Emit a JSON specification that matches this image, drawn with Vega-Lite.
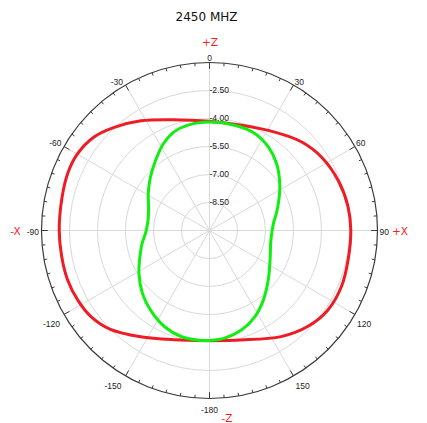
{
  "$schema": "https://vega.github.io/schema/vega-lite/v6.json",
  "width": 427,
  "height": 423,
  "autosize": {"type": "none"},
  "padding": 0,
  "background": "white",
  "config": {"view": {"stroke": null}, "font": "Liberation Sans"},
  "title": {"text": "2450 MHZ", "font": "DejaVu Sans", "fontSize": 12, "fontWeight": "normal", "color": "#111111", "anchor": "middle", "frame": "group", "offset": -24, "dx": -7},
  "datasets": {
    "rings": [{"db": -8.5, "kind": "grid"}, {"db": -7, "kind": "grid"}, {"db": -5.5, "kind": "grid"}, {"db": -4, "kind": "grid"}, {"db": -2.5, "kind": "grid"}, {"db": -1, "kind": "outer"}],
    "ticks": [
      {"angle": -175}, {"angle": -170}, {"angle": -165}, {"angle": -160}, {"angle": -155}, {"angle": -150},
      {"angle": -145}, {"angle": -140}, {"angle": -135}, {"angle": -130}, {"angle": -125}, {"angle": -120},
      {"angle": -115}, {"angle": -110}, {"angle": -105}, {"angle": -100}, {"angle": -95}, {"angle": -90},
      {"angle": -85}, {"angle": -80}, {"angle": -75}, {"angle": -70}, {"angle": -65}, {"angle": -60},
      {"angle": -55}, {"angle": -50}, {"angle": -45}, {"angle": -40}, {"angle": -35}, {"angle": -30},
      {"angle": -25}, {"angle": -20}, {"angle": -15}, {"angle": -10}, {"angle": -5}, {"angle": 0},
      {"angle": 5}, {"angle": 10}, {"angle": 15}, {"angle": 20}, {"angle": 25}, {"angle": 30},
      {"angle": 35}, {"angle": 40}, {"angle": 45}, {"angle": 50}, {"angle": 55}, {"angle": 60},
      {"angle": 65}, {"angle": 70}, {"angle": 75}, {"angle": 80}, {"angle": 85}, {"angle": 90},
      {"angle": 95}, {"angle": 100}, {"angle": 105}, {"angle": 110}, {"angle": 115}, {"angle": 120},
      {"angle": 125}, {"angle": 130}, {"angle": 135}, {"angle": 140}, {"angle": 145}, {"angle": 150},
      {"angle": 155}, {"angle": 160}, {"angle": 165}, {"angle": 170}, {"angle": 175}, {"angle": 180}
    ],
    "rlabels": [
      {"db": -2.5, "label": "-2.50"}, {"db": -4, "label": "-4.00"}, {"db": -5.5, "label": "-5.50"},
      {"db": -7, "label": "-7.00"}, {"db": -8.5, "label": "-8.50"}
    ],
    "alabels": [
      {"angle": 0, "label": "0"}, {"angle": 30, "label": "30"}, {"angle": 60, "label": "60"},
      {"angle": 90, "label": "90"}, {"angle": 120, "label": "120"}, {"angle": 150, "label": "150"},
      {"angle": 180, "label": "-180"}, {"angle": -150, "label": "-150"}, {"angle": -120, "label": "-120"},
      {"angle": -90, "label": "-90"}, {"angle": -60, "label": "-60"}, {"angle": -30, "label": "-30"}
    ],
    "dirs": [
      {"label": "+Z", "angle": 0}, {"label": "+X", "angle": 90}, {"label": "-X", "angle": -90}, {"label": "-Z", "angle": 180}
    ],
    "pattern": [
      {"series": "s1", "angle": -180, "db": -4.11}, {"series": "s1", "angle": -162, "db": -3.85},
      {"series": "s1", "angle": -147, "db": -3.21}, {"series": "s1", "angle": -135, "db": -2.5},
      {"series": "s1", "angle": -126, "db": -2.15}, {"series": "s1", "angle": -118, "db": -2.02},
      {"series": "s1", "angle": -109, "db": -1.95}, {"series": "s1", "angle": -100, "db": -1.96},
      {"series": "s1", "angle": -90, "db": -1.95}, {"series": "s1", "angle": -78, "db": -1.91},
      {"series": "s1", "angle": -68, "db": -1.81}, {"series": "s1", "angle": -60, "db": -1.82},
      {"series": "s1", "angle": -51, "db": -2.04}, {"series": "s1", "angle": -43, "db": -2.46},
      {"series": "s1", "angle": -32, "db": -3.07}, {"series": "s1", "angle": -18, "db": -3.76},
      {"series": "s1", "angle": 0, "db": -4.15}, {"series": "s1", "angle": 17, "db": -4.11},
      {"series": "s1", "angle": 34, "db": -3.66}, {"series": "s1", "angle": 46, "db": -3.16},
      {"series": "s1", "angle": 57, "db": -2.82}, {"series": "s1", "angle": 69, "db": -2.6},
      {"series": "s1", "angle": 80, "db": -2.47}, {"series": "s1", "angle": 90, "db": -2.43},
      {"series": "s1", "angle": 102, "db": -2.41}, {"series": "s1", "angle": 113, "db": -2.32},
      {"series": "s1", "angle": 124, "db": -2.36}, {"series": "s1", "angle": 134, "db": -2.63},
      {"series": "s1", "angle": 146, "db": -3.14}, {"series": "s1", "angle": 164, "db": -3.9},
      {"series": "s1", "angle": 180, "db": -4.11},
      {"series": "s2", "angle": -180, "db": -4.11}, {"series": "s2", "angle": -175, "db": -4.09},
      {"series": "s2", "angle": -165, "db": -4.12}, {"series": "s2", "angle": -155, "db": -4.31},
      {"series": "s2", "angle": -143, "db": -4.71}, {"series": "s2", "angle": -133, "db": -5.08},
      {"series": "s2", "angle": -121, "db": -5.59}, {"series": "s2", "angle": -106, "db": -6.17},
      {"series": "s2", "angle": -100, "db": -6.35}, {"series": "s2", "angle": -92, "db": -6.58},
      {"series": "s2", "angle": -80, "db": -6.66}, {"series": "s2", "angle": -68, "db": -6.48},
      {"series": "s2", "angle": -59, "db": -6.17}, {"series": "s2", "angle": -48, "db": -5.74},
      {"series": "s2", "angle": -37.5, "db": -5.26}, {"series": "s2", "angle": -28, "db": -4.74},
      {"series": "s2", "angle": -20, "db": -4.39}, {"series": "s2", "angle": -12, "db": -4.24},
      {"series": "s2", "angle": 0, "db": -4.19}, {"series": "s2", "angle": 14, "db": -4.2},
      {"series": "s2", "angle": 25, "db": -4.26}, {"series": "s2", "angle": 35, "db": -4.52},
      {"series": "s2", "angle": 45, "db": -4.92}, {"series": "s2", "angle": 56, "db": -5.46},
      {"series": "s2", "angle": 66, "db": -5.93}, {"series": "s2", "angle": 75, "db": -6.28},
      {"series": "s2", "angle": 84, "db": -6.56}, {"series": "s2", "angle": 99, "db": -6.67},
      {"series": "s2", "angle": 116, "db": -6.39}, {"series": "s2", "angle": 130, "db": -5.89},
      {"series": "s2", "angle": 142, "db": -5.3}, {"series": "s2", "angle": 152, "db": -4.79},
      {"series": "s2", "angle": 162, "db": -4.41}, {"series": "s2", "angle": 172, "db": -4.18},
      {"series": "s2", "angle": 180, "db": -4.11}
    ]
  },
  "layer": [
    {
      "data": {"name": "rings"},
      "transform": [
        {"filter": "datum.kind == 'grid'"},
        {"calculate": "0", "as": "px"},
        {"calculate": "0", "as": "py"},
        {"calculate": "(datum.db + 10) * (datum.db + 10)", "as": "r2"}
      ],
      "mark": {"type": "point", "shape": "circle", "filled": false, "stroke": "#d9d9d9", "strokeWidth": 1, "opacity": 1},
      "encoding": {
        "x": {"field": "px", "type": "quantitative", "scale": {"domain": [-11.223, 11.652], "nice": false, "zero": false}, "axis": null},
        "y": {"field": "py", "type": "quantitative", "scale": {"domain": [-10.313, 12.348], "nice": false, "zero": false}, "axis": null},
        "size": {"field": "r2", "type": "quantitative", "scale": {"type": "linear", "domain": [0, 81], "range": [0, 112896], "zero": true}, "legend": null}
      }
    },
    {
      "data": {"name": "ticks"},
      "transform": [
        {"filter": "datum.angle % 30 == 0"},
        {"calculate": "0", "as": "ox"},
        {"calculate": "0", "as": "oy"},
        {"calculate": "9 * sin(datum.angle * PI / 180)", "as": "px"},
        {"calculate": "9 * cos(datum.angle * PI / 180)", "as": "py"}
      ],
      "mark": {"type": "rule", "stroke": "#d9d9d9", "strokeWidth": 1},
      "encoding": {
        "x": {"field": "ox", "type": "quantitative", "scale": {"domain": [-11.223, 11.652], "nice": false, "zero": false}, "axis": null},
        "y": {"field": "oy", "type": "quantitative", "scale": {"domain": [-10.313, 12.348], "nice": false, "zero": false}, "axis": null},
        "x2": {"field": "px"},
        "y2": {"field": "py"}
      }
    },
    {
      "data": {"name": "rings"},
      "transform": [
        {"filter": "datum.kind == 'outer'"},
        {"calculate": "0", "as": "px"},
        {"calculate": "0", "as": "py"},
        {"calculate": "(datum.db + 10) * (datum.db + 10)", "as": "r2"}
      ],
      "mark": {"type": "point", "shape": "circle", "filled": false, "stroke": "#3a3a3a", "strokeWidth": 1.2, "opacity": 1},
      "encoding": {
        "x": {"field": "px", "type": "quantitative", "scale": {"domain": [-11.223, 11.652], "nice": false, "zero": false}, "axis": null},
        "y": {"field": "py", "type": "quantitative", "scale": {"domain": [-10.313, 12.348], "nice": false, "zero": false}, "axis": null},
        "size": {"field": "r2", "type": "quantitative", "scale": {"type": "linear", "domain": [0, 81], "range": [0, 112896], "zero": true}, "legend": null}
      }
    },
    {
      "data": {"name": "ticks"},
      "transform": [
        {"calculate": "datum.angle % 30 == 0 ? 0.34 : 0.17", "as": "len"},
        {"calculate": "9 * sin(datum.angle * PI / 180)", "as": "px"},
        {"calculate": "9 * cos(datum.angle * PI / 180)", "as": "py"},
        {"calculate": "(9 - datum.len) * sin(datum.angle * PI / 180)", "as": "qx"},
        {"calculate": "(9 - datum.len) * cos(datum.angle * PI / 180)", "as": "qy"}
      ],
      "mark": {"type": "rule", "stroke": "#3a3a3a", "strokeWidth": 1},
      "encoding": {
        "x": {"field": "px", "type": "quantitative", "scale": {"domain": [-11.223, 11.652], "nice": false, "zero": false}, "axis": null},
        "y": {"field": "py", "type": "quantitative", "scale": {"domain": [-10.313, 12.348], "nice": false, "zero": false}, "axis": null},
        "x2": {"field": "qx"},
        "y2": {"field": "qy"}
      }
    },
    {
      "data": {"name": "rlabels"},
      "transform": [
        {"calculate": "0", "as": "px"},
        {"calculate": "datum.db + 10", "as": "py"}
      ],
      "mark": {"type": "text", "align": "left", "baseline": "middle", "fontSize": 8.5, "font": "Liberation Sans", "color": "#222222", "dx": 0},
      "encoding": {
        "x": {"field": "px", "type": "quantitative", "scale": {"domain": [-11.223, 11.652], "nice": false, "zero": false}, "axis": null},
        "y": {"field": "py", "type": "quantitative", "scale": {"domain": [-10.313, 12.348], "nice": false, "zero": false}, "axis": null},
        "text": {"field": "label", "type": "nominal"}
      }
    },
    {
      "data": {"name": "pattern"},
      "transform": [
        {"calculate": "(datum.db + 10) * sin(datum.angle * PI / 180)", "as": "px"},
        {"calculate": "(datum.db + 10) * cos(datum.angle * PI / 180)", "as": "py"}
      ],
      "mark": {"type": "line", "interpolate": "catmull-rom", "strokeWidth": 3},
      "encoding": {
        "x": {"field": "px", "type": "quantitative", "scale": {"domain": [-11.223, 11.652], "nice": false, "zero": false}, "axis": null},
        "y": {"field": "py", "type": "quantitative", "scale": {"domain": [-10.313, 12.348], "nice": false, "zero": false}, "axis": null},
        "color": {"field": "series", "type": "nominal", "scale": {"domain": ["s1", "s2"], "range": ["#ee1c24", "#11ee11"]}, "legend": null},
        "order": {"field": "angle", "type": "quantitative"}
      }
    },
    {
      "data": {"name": "alabels"},
      "transform": [
        {"calculate": "9 * sin(datum.angle * PI / 180)", "as": "px"},
        {"calculate": "9 * cos(datum.angle * PI / 180)", "as": "py"}
      ],
      "encoding": {
        "x": {"field": "px", "type": "quantitative", "scale": {"domain": [-11.223, 11.652], "nice": false, "zero": false}, "axis": null},
        "y": {"field": "py", "type": "quantitative", "scale": {"domain": [-10.313, 12.348], "nice": false, "zero": false}, "axis": null},
        "text": {"field": "label", "type": "nominal"}
      },
      "layer": [
        {"transform": [{"filter": "datum.angle == 0"}], "mark": {"type": "text", "align": "center", "baseline": "alphabetic", "dy": -1, "fontSize": 8.5, "color": "#222222"}},
        {"transform": [{"filter": "datum.angle == 30 || datum.angle == 60"}], "mark": {"type": "text", "align": "left", "baseline": "alphabetic", "dx": 1, "dy": 0, "fontSize": 8.5, "color": "#222222"}},
        {"transform": [{"filter": "datum.angle == -30 || datum.angle == -60"}], "mark": {"type": "text", "align": "right", "baseline": "alphabetic", "dx": -2.5, "dy": 0, "fontSize": 8.5, "color": "#222222"}},
        {"transform": [{"filter": "datum.angle == 90"}], "mark": {"type": "text", "align": "left", "baseline": "middle", "dx": 2, "dy": 2, "fontSize": 8.5, "color": "#222222"}},
        {"transform": [{"filter": "datum.angle == -90"}], "mark": {"type": "text", "align": "right", "baseline": "middle", "dx": -2.5, "dy": 2, "fontSize": 8.5, "color": "#222222"}},
        {"transform": [{"filter": "datum.angle == 120 || datum.angle == 150"}], "mark": {"type": "text", "align": "left", "baseline": "top", "dx": 2, "dy": 6, "fontSize": 8.5, "color": "#222222"}},
        {"transform": [{"filter": "datum.angle == -120 || datum.angle == -150"}], "mark": {"type": "text", "align": "right", "baseline": "top", "dx": -4, "dy": 6, "fontSize": 8.5, "color": "#222222"}},
        {"transform": [{"filter": "datum.angle == 180"}], "mark": {"type": "text", "align": "center", "baseline": "top", "dy": 7.5, "fontSize": 8.5, "color": "#222222"}}
      ]
    },
    {
      "data": {"name": "dirs"},
      "transform": [
        {"calculate": "9 * sin(datum.angle * PI / 180)", "as": "px"},
        {"calculate": "9 * cos(datum.angle * PI / 180)", "as": "py"}
      ],
      "encoding": {
        "x": {"field": "px", "type": "quantitative", "scale": {"domain": [-11.223, 11.652], "nice": false, "zero": false}, "axis": null},
        "y": {"field": "py", "type": "quantitative", "scale": {"domain": [-10.313, 12.348], "nice": false, "zero": false}, "axis": null},
        "text": {"field": "label", "type": "nominal"}
      },
      "layer": [
        {"transform": [{"filter": "datum.label == '+Z'"}], "mark": {"type": "text", "align": "center", "baseline": "middle", "dx": 0.5, "dy": -19.5, "font": "DejaVu Sans", "fontSize": 10.5, "color": "#ff1a1a"}},
        {"transform": [{"filter": "datum.label == '+X'"}], "mark": {"type": "text", "align": "center", "baseline": "middle", "dx": 22.5, "dy": 2, "font": "DejaVu Sans", "fontSize": 10.5, "color": "#ff1a1a"}},
        {"transform": [{"filter": "datum.label == '-X'"}], "mark": {"type": "text", "align": "center", "baseline": "middle", "dx": -26, "dy": 2, "font": "DejaVu Sans", "fontSize": 10.5, "color": "#ff1a1a"}},
        {"transform": [{"filter": "datum.label == '-Z'"}], "mark": {"type": "text", "align": "center", "baseline": "middle", "dx": 17.5, "dy": 21, "font": "DejaVu Sans", "fontSize": 10.5, "color": "#ff1a1a"}}
      ]
    }
  ]
}
